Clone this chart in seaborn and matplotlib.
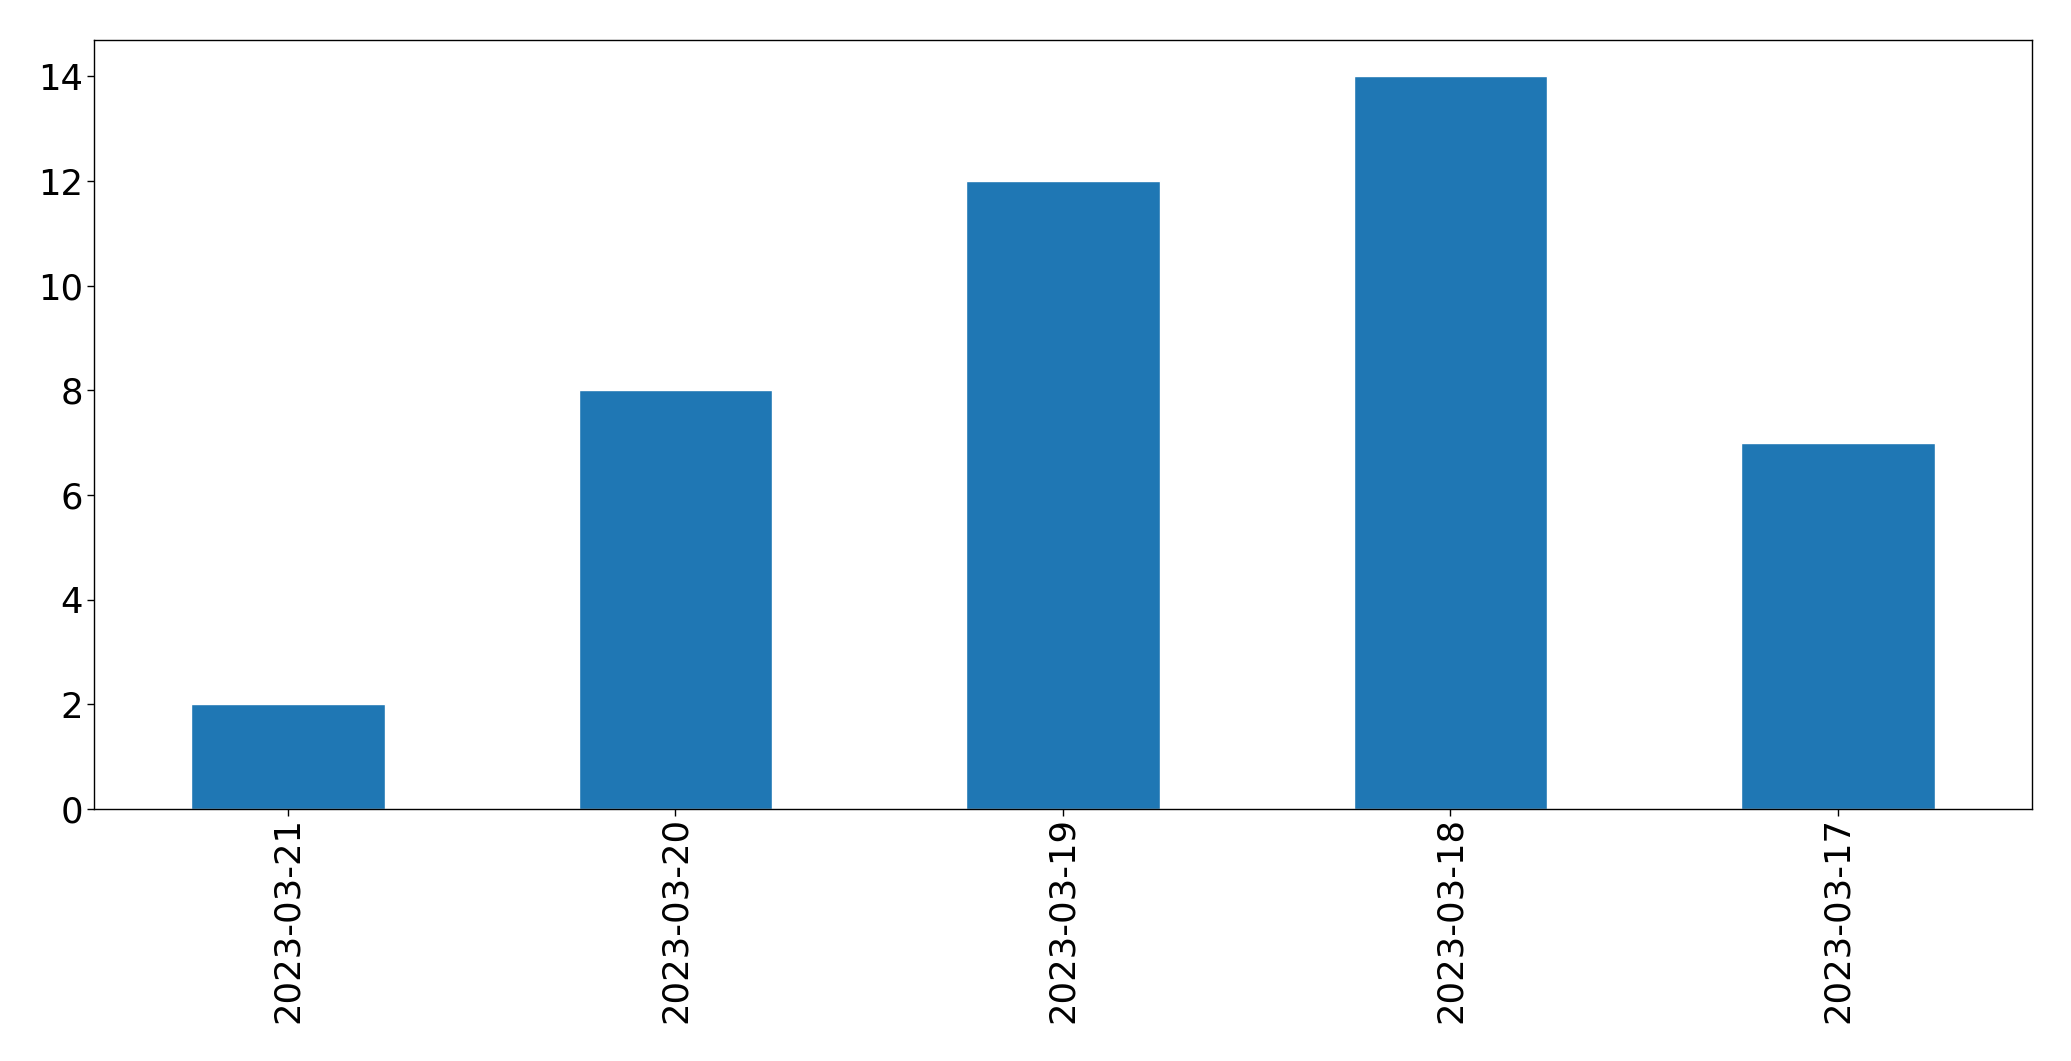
import matplotlib
matplotlib.use("Agg")
import matplotlib.pyplot as plt
import seaborn as sns
import pandas as pd

# Data
dates = ['2023-03-21', '2023-03-20', '2023-03-19', '2023-03-18', '2023-03-17']
counts = [2, 8, 12, 14, 7]

df = pd.DataFrame({'date': dates, 'count': counts})

sns.set_style("white")
plt.rcParams['font.family'] = ['DejaVu Sans']
plt.rcParams['text.color'] = 'black'
plt.rcParams['xtick.color'] = 'black'
plt.rcParams['ytick.color'] = 'black'

fig = plt.figure(figsize=(20.71, 10.61), dpi=100)
ax = fig.add_axes([0.0455, 0.2375, 0.9355, 0.725])

sns.barplot(data=df, x='date', y='count', color='#1f77b4', saturation=1,
            width=0.5, ax=ax)

ax.set_xlabel('')
ax.set_ylabel('')
ax.set_ylim(0, 14.7)
ax.set_xlim(-0.5, len(dates) - 0.5)
ax.set_yticks(range(0, 15, 2))
ax.tick_params(axis='both', labelsize=25.5, length=5, width=1,
               left=True, bottom=True, colors='black')
ax.tick_params(axis='x', pad=1)
ax.tick_params(axis='y', pad=3)
plt.setp(ax.get_xticklabels(), rotation=90)
for s in ax.spines.values():
    s.set_visible(True)
    s.set_color('black')
    s.set_linewidth(1)

fig.savefig('out.png', dpi=100)
